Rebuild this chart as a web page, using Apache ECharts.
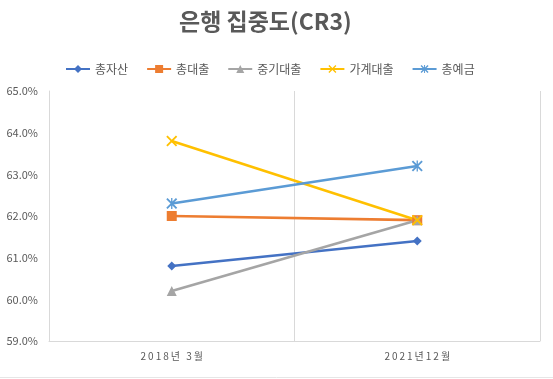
<!DOCTYPE html>
<html><head><meta charset="utf-8">
<script src="https://cdn.jsdelivr.net/npm/echarts@6/dist/echarts.min.js"></script>
<style>html,body{margin:0;padding:0;background:#fff}#c{width:553px;height:379px}</style>
</head><body><div id="c"></div>
<script>
var categories = ['2018년 3월', '2021년12월'];
var seriesNames = ['총자산', '총대출', '중기대출', '가계대출', '총예금'];
var totalAssets = [60.8, 61.4];
var totalLoans = [62.0, 61.9];
var smeLoans = [60.2, 61.9];
var householdLoans = [63.8, 61.9];
var totalDeposits = [62.3, 63.2];
var yTicks = [59, 60, 61, 62, 63, 64, 65];

var X_PATH = 'path://M0,1.2L1.2,0L10,8.8L8.8,10ZM8.8,0L10,1.2L1.2,10L0,8.8Z';
var AST_PATH = 'path://M0,1.2L1.2,0L10,8.8L8.8,10ZM8.8,0L10,1.2L1.2,10L0,8.8ZM4.4,0L5.6,0L5.6,10L4.4,10Z';

var colors = ['#4472C4', '#ED7D31', '#A5A5A5', '#FFC000', '#5B9BD5'];
var symbols = ['diamond', 'rect', 'triangle', X_PATH, AST_PATH];
var sizes = [9, 10, 10, 11, 11];
var datas = [totalAssets, totalLoans, smeLoans, householdLoans, totalDeposits];

var font = '"Noto Sans CJK KR", "Noto Sans", sans-serif';
var chart = echarts.init(document.getElementById('c'));
chart.setOption({
  animation: false,
  backgroundColor: '#fff',
  title: {
    text: '은행 집중도(CR3)',
    left: 174,
    top: 5,
    textStyle: {fontFamily: font, fontSize: 23, fontWeight: 'bold', color: '#595959'}
  },
  legend: {
    data: seriesNames,
    top: 58,
    left: 60,
    itemWidth: 24,
    itemHeight: 10,
    itemGap: 18,
    textStyle: {fontFamily: font, fontSize: 12, color: '#595959'}
  },
  grid: {left: 49, right: 13, top: 91, bottom: 38, containLabel: false},
  xAxis: {
    type: 'category',
    data: categories,
    boundaryGap: true,
    axisLine: {show: true, lineStyle: {color: '#D9D9D9', width: 1}},
    axisTick: {show: false},
    splitLine: {show: true, lineStyle: {color: '#D9D9D9', width: 1}},
    axisLabel: {
      fontFamily: font, fontSize: 10, color: '#595959', margin: 10,
      formatter: function (v) { return v.split('').join('\u2009'); }
    }
  },
  yAxis: {
    type: 'value',
    min: yTicks[0], max: yTicks[yTicks.length - 1], interval: 1,
    axisLine: {show: true, lineStyle: {color: '#D9D9D9'}},
    axisTick: {show: false},
    splitLine: {show: false},
    axisLabel: {
      fontFamily: font, fontSize: 11, color: '#595959', margin: 11,
      formatter: function (v) { return v.toFixed(1) + '%'; }
    }
  },
  graphic: [{type: 'line', shape: {x1: 0, y1: 377.5, x2: 553, y2: 377.5}, style: {stroke: '#E6E6E6', lineWidth: 1}}],
  series: seriesNames.map(function (n, i) {
    return {
      name: n, type: 'line', data: datas[i],
      symbol: symbols[i], symbolSize: sizes[i], showSymbol: true,
      lineStyle: {color: colors[i], width: 2.6},
      itemStyle: {color: colors[i]}
    };
  })
});
</script></body></html>
